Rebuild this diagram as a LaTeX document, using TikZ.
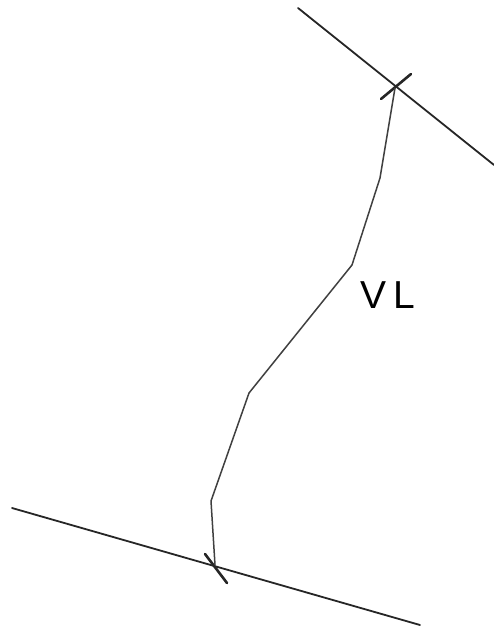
\documentclass[tikz,border=0pt]{standalone}
\usepackage{fontspec}
\setsansfont{Liberation Sans}
\usepackage{tikz}
\usetikzlibrary{positioning, calc}

\tikzset{
  boundary/.style={draw=black!85, line width=1.8pt, line cap=round},
  crossmark/.style={draw=black!85, line width=2.6pt, line cap=round},
  vlpath/.style={draw=black!75, line width=1.5pt, line join=round}
}

\begin{document}
\begin{tikzpicture}[x=1pt, y=-1pt]
      \useasboundingbox (0,0) rectangle (494,628);
      % Nodes
      \coordinate (topA) at (298,8);
      \coordinate (topB) at (494,165);
      \coordinate (botA) at (12,508);
      \coordinate (botB) at (420,625);
      \coordinate (topX) at (395,88);
      \coordinate (botX) at (215,565);
      \coordinate (k1) at (380,178);
      \coordinate (k2) at (352,265);
      \coordinate (k3) at (249,393);
      \coordinate (k4) at (211,501);
      \coordinate (tt1) at (381,99);
      \coordinate (tt2) at (411,74);
      \coordinate (bt1) at (205,554);
      \coordinate (bt2) at (227,583);
      \node[font=\sffamily\fontsize{39}{39}\selectfont, inner sep=0pt] (vl) at (388,295) {V\,L};

      % Connections
      \draw[boundary] (topA) -- (topB);
      \draw[boundary] (botA) -- (botB);
      \draw[crossmark] (tt1) -- (tt2);
      \draw[crossmark] (bt1) -- (bt2);
      \draw[vlpath] (topX) -- (k1) -- (k2) -- (k3) -- (k4) -- (botX);
    \end{tikzpicture}
\end{document}
